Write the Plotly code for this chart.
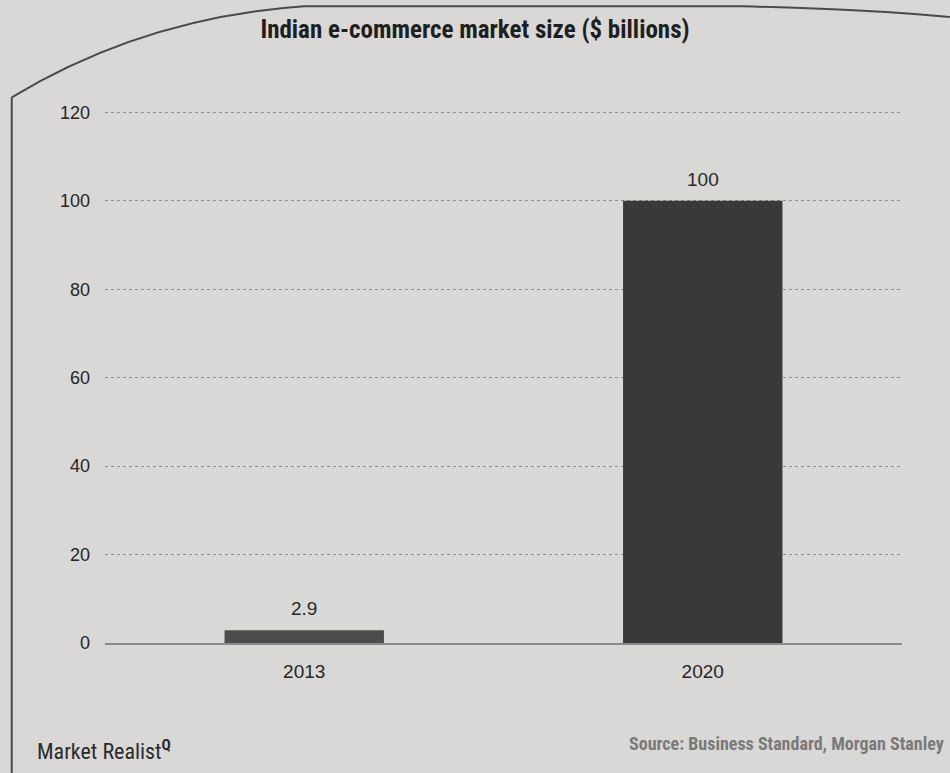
import plotly.graph_objects as go

# Indian e-commerce market size, $ billions
years = ["2013", "2020"]
market_size = [2.9, 100]
bar_colors = ["#4e4b4c", "#3b3839"]
y_ticks = [0, 20, 40, 60, 80, 100, 120]

condensed = "Roboto Condensed, Liberation Sans Narrow, Arial Narrow, sans-serif"
regular = "Liberation Sans, Arial, sans-serif"

fig = go.Figure()
fig.add_trace(go.Bar(
    x=years,
    y=market_size,
    marker=dict(color=bar_colors, line=dict(width=0)),
    width=0.4,
))

# value labels above each bar (category axis: position by category index)
value_labels = [
    dict(x=i, y=v, text=f"{v:g}", xref="x", yref="y", showarrow=False,
         yanchor="bottom", yshift=9,
         font=dict(family=regular, size=19, color="#2a2a2a"))
    for i, v in enumerate(market_size)
]

fig.update_layout(
    width=950, height=773,
    margin=dict(l=105, r=48, t=108, b=130),
    paper_bgcolor="#d9d8d6",
    plot_bgcolor="#d9d8d6",
    showlegend=False,
    title=dict(
        text="<b>Indian e-commerce market size ($ billions)</b>",
        x=0.5, xanchor="center", y=0.962, yanchor="middle",
        font=dict(family=condensed, size=25, color="#1f1f1f"),
    ),
    xaxis=dict(
        type="category",
        range=[-0.5, 1.5],
        showgrid=False,
        showline=True, linecolor="#8a8a8a", linewidth=1.5,
        ticks="", ticklabelstandoff=10,
        tickfont=dict(family=regular, size=19, color="#262626"),
    ),
    yaxis=dict(
        range=[0, 121],
        tickvals=y_ticks,
        showgrid=True, gridcolor="#8e8e8e", griddash="dot", gridwidth=1.2,
        zeroline=False, showline=False,
        ticks="", ticklabelstandoff=14,
        tickfont=dict(family=regular, size=18, color="#262626"),
    ),
    shapes=[
        # left edge of the printed panel
        dict(type="line", xref="paper", yref="paper", x0=-0.117, x1=-0.117, y0=-0.26, y1=1.02,
             line=dict(color="#4a4a4a", width=2)),
        # top edge of the printed panel
        dict(type="path", xref="paper", yref="paper",
             path="M -0.117 1.02 Q 0.05 1.17 0.25 1.19 L 0.80 1.19 Q 0.95 1.185 1.06 1.17",
             line=dict(color="#4a4a4a", width=2)),
    ],
    annotations=value_labels + [
        dict(text="Market Realist<sup><b>Q</b></sup>", xref="paper", yref="paper",
             x=-0.088, y=-0.2, xanchor="left", yanchor="middle", showarrow=False,
             font=dict(family=condensed, size=22, color="#2a2a2a")),
        dict(text="<b>Source: Business Standard, Morgan Stanley</b>", xref="paper", yref="paper",
             x=1.055, y=-0.187, xanchor="right", yanchor="middle", showarrow=False,
             font=dict(family=condensed, size=18, color="#7a7a7a")),
    ],
)

fig.write_html("out.html")
